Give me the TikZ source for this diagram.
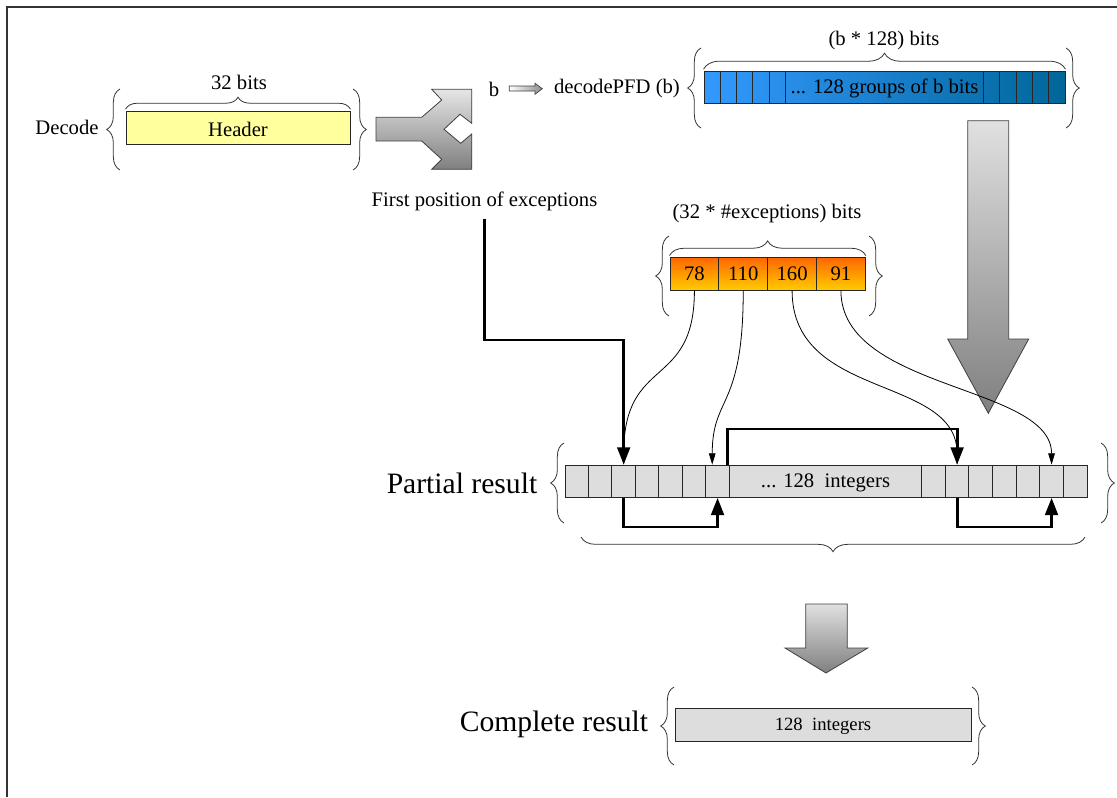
\documentclass[tikz,border=0pt]{standalone}
\usepackage{fontspec}
\setmainfont{Liberation Serif}
\usetikzlibrary{decorations.pathreplacing,arrows.meta}
\definecolor{hdrY}{RGB}{255,255,158}
\definecolor{blueL}{RGB}{51,153,255}
\definecolor{blueR}{RGB}{0,102,153}
\definecolor{orT}{RGB}{255,102,0}
\definecolor{orB}{RGB}{255,204,0}
\definecolor{lgray}{RGB}{221,221,221}
\begin{document}
\begin{tikzpicture}[x=0.75pt,y=-0.75pt,
  base/.style={font=\fontsize{15.5}{18}\selectfont},
  bigtxt/.style={font=\fontsize{22.2}{26}\selectfont},
  smalltxt/.style={font=\fontsize{14}{16}\selectfont},
  txt/.style={inner sep=0pt, base},
  barbox/.style={draw=black!85, line width=0.7pt, inner sep=0pt},
  cellbox/.style={draw=black!85, line width=0.7pt, inner sep=0pt},
  brc/.style={decorate, decoration={brace, amplitude=#1}, draw=black!80, line width=0.6pt},
  thickln/.style={line width=2.2pt, -{Triangle[length=13pt,width=9.5pt]}},
  thinln/.style={line width=0.6pt, -{Triangle[length=8.5pt,width=5pt]}},
  blockarrow/.style={draw=black!75, line width=0.6pt, top color=black!12, bottom color=black!50},
]
\useasboundingbox (0,0) rectangle (1117,797);
% frame
\draw[black!80, line width=0.8pt] (7,797) -- (7,7) -- (1117,7);

% ---------- Header row ----------
\node[txt] (dec) at (67,127.5) {Decode};
\node[barbox, fill=hdrY, minimum width=168pt, minimum height=24.75pt] (hdr) at (238,127.5) {};
\node[txt] (hdrtxt) at (238,129) {Header};
\draw[brc=9pt] ([yshift=1pt]hdr.north west) -- ([yshift=1pt]hdr.north east);
\node[txt] (b32) at (239,82) {32 bits};
\draw[brc=10pt] (120,170) -- (120,89);
\draw[brc=10pt] (353,89) -- (353,170);

% Y-shaped split arrow
\draw[blockarrow, top color=black!10, bottom color=black!50]
  (376,117.3) -- (421.7,117.3) -- (441.7,100) -- (431.7,89.3) -- (471.7,89.3) -- (471.7,123.3)
  -- (460,114.3) -- (444,129.3) -- (460.7,143.3) -- (471.7,134) -- (471.7,169.3) -- (431.7,169.3)
  -- (441.7,159.3) -- (421.7,141) -- (376,141) -- cycle;

% b -> decodePFD (b)
\node[txt] (bb) at (494,89) {b};
\draw[draw=black!75, line width=0.5pt, left color=white, right color=black!45]
  (509.3,86) -- (535,86) -- (535,83.3) -- (542.3,88.7) -- (535,94.3) -- (535,91) -- (509.3,91) -- cycle;
\node[txt] (dpfd) at (617,89) {decodePFD (b)};

% blue bar
\node[barbox, left color=blueL, right color=blueR, minimum width=270.75pt, minimum height=24pt] (pfd) at (884.5,87) {};
\foreach \i in {1,...,5} {
  \node[cellbox, minimum width=12.2pt, minimum height=24pt] (bl\i) at ({704+16.26*(\i-0.5)},87) {};
  \node[cellbox, minimum width=12.25pt, minimum height=24pt] (br\i) at ({983.3+16.34*(\i-0.5)},87) {};
}
\node[txt] (pfdtxt) at (884.5,88) {... 128 groups of b bits};
\draw[brc=12pt] ([yshift=1pt]pfd.north west) -- ([yshift=1pt]pfd.north east);
\node[txt] (b128) at (884,41) {(b * 128) bits};
\draw[brc=10pt] (701,128) -- (701,48);
\draw[brc=10pt] (1066,48) -- (1066,128);

% first position label
\node[txt] (fp) at (484.5,201) {First position of exceptions};

% big right block arrow
\draw[blockarrow] (967.7,120.7) -- (1008.7,120.7) -- (1008.7,339) -- (1028.7,339) -- (988.3,413.3)
  -- (947.7,339) -- (967.7,339) -- cycle;

% ---------- exceptions ----------
\node[txt] (ex32) at (767,214) {(32 * \#exceptions) bits};
\foreach \v [count=\i] in {78,110,160,91}
  \node[cellbox, top color=orT, bottom color=orB, minimum width=36.6pt, minimum height=24.5pt, base] (e\i) at ({670+48.83*(\i-0.5)},273.7) {\v};
\draw[brc=11pt] ([yshift=1pt]e1.north west) -- ([yshift=1pt]e4.north east);
\draw[brc=10pt] (669,316) -- (669,236);
\draw[brc=10pt] (869,236) -- (869,316);

% ---------- partial result ----------
\node[txt, bigtxt] (pr) at (462,483) {Partial result};
\node[barbox, fill=lgray, minimum width=391.5pt, minimum height=24.2pt] (pbar) at (826,481.2) {};
\foreach \i in {1,...,7} {
  \node[cellbox, minimum width=17.6pt, minimum height=24.2pt] (p\i) at ({565+23.47*(\i-0.5)},481.2) {};
  \node[cellbox, minimum width=17.7pt, minimum height=24.2pt] (q\i) at ({921.7+23.61*(\i-0.5)},481.2) {};
}
\node[txt] (ptxt) at (825.5,483) {... 128\ \ integers};
\draw[brc=10pt] (564,523) -- (564,443);
\draw[brc=10pt] (1101,443) -- (1101,523);
\draw[brc=11pt] (1085,537) -- (581,537);

% thin curved arrows from exception values
\draw[thinln] (e1.south) .. controls +(0,100) and +(0,-110) .. (p3.north);
\draw[thinln] (e2.south) .. controls +(0,120) and +(0,-70) .. ([xshift=-4pt]p7.north);
\draw[thinln] (e3.south) .. controls +(0,110) and +(0,-90) .. (q2.north);
\draw[thinln] (e4.south) .. controls +(0,100) and +(0,-80) .. (q6.north);

% thick chain arrows
\draw[thickln] ([yshift=-6pt]fp.south) |- (p3.north |- 0,340) -- (p3.north);
\draw[thickln] (p3.south) -- (p3.south |- 0,527) -| (p7.south);
\draw[thickln] ([xshift=-1.5pt]p7.north east) -- ([xshift=-1.5pt]p7.north east |- 0,429) -| (q2.north);
\draw[thickln] (q2.south) -- (q2.south |- 0,527) -| (q6.south);

% small block arrow
\draw[blockarrow] (805.7,604) -- (847.3,604) -- (847.3,648) -- (867.7,648) -- (826,673)
  -- (785,648) -- (805.7,648) -- cycle;

% ---------- complete result ----------
\node[txt, bigtxt] (cr) at (554,724) {Complete result};
\node[barbox, fill=lgray, minimum width=222pt, minimum height=25pt] (cbar) at (823,725) {};
\node[txt, smalltxt] (ctxt) at (823,726.5) {128\ \ integers};
\draw[brc=10pt] (674,765) -- (674,687);
\draw[brc=10pt] (972,687) -- (972,765);
\end{tikzpicture}
\end{document}
